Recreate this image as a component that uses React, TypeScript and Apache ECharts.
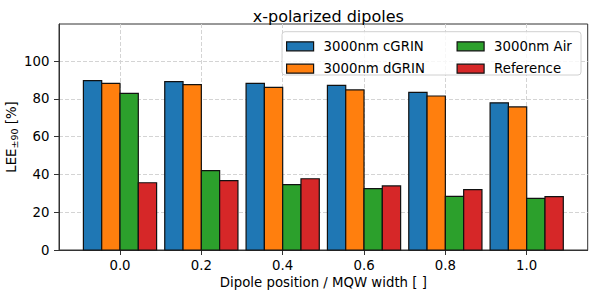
import React, { useEffect, useRef } from "react";
import * as echarts from "echarts";

const positions = [0.0, 0.2, 0.4, 0.6, 0.8, 1.0];
const cGRIN = [89.6, 89.1, 88.2, 87.1, 83.4, 77.9];
const dGRIN = [88.2, 87.5, 86.1, 84.7, 81.5, 75.7];
const air = [82.9, 42.0, 34.6, 32.5, 28.4, 27.3];
const reference = [35.6, 36.7, 37.7, 33.9, 31.9, 28.2];
const seriesNames = ["3000nm cGRIN", "3000nm dGRIN", "3000nm Air", "Reference"];
const xTicks = [0.0, 0.2, 0.4, 0.6, 0.8, 1.0];
const yTicks = [0, 20, 40, 60, 80, 100];

const COLORS = ["#1f77b4", "#ff7f0e", "#2ca02c", "#d62728"];
const FONT = "DejaVu Sans";
const BAR_W = 0.045;
const OFFSETS = [-0.0675, -0.0225, 0.0225, 0.0675];

export default function App() {
  const ref = useRef<HTMLDivElement>(null);
  useEffect(() => {
    if (!ref.current) return;
    const chart = echarts.init(ref.current, null, { renderer: "svg" });
    const all = [cGRIN, dGRIN, air, reference];
    const series = all.map((vals, si) => ({
      type: "custom",
      name: seriesNames[si],
      data: positions.map((p, i) => [p, vals[i]]),
      itemStyle: { color: COLORS[si], borderColor: "#000", borderWidth: 1.2 },
      renderItem: (params: any, api: any) => {
        const x = api.value(0) + OFFSETS[si];
        const v = api.value(1);
        const p0 = api.coord([x - BAR_W / 2, v]);
        const p1 = api.coord([x + BAR_W / 2, 0]);
        return {
          type: "rect",
          shape: { x: p0[0], y: p0[1], width: p1[0] - p0[0], height: p1[1] - p0[1] },
          style: { fill: COLORS[si], stroke: "#111", lineWidth: 1.2 },
        };
      },
      z: 2,
    }));
    const legendCommon = {
      orient: "vertical",
      itemWidth: 27,
      itemHeight: 9,
      itemGap: 9.4,
      icon: "rect",
      itemStyle: { borderColor: "#111", borderWidth: 1.2 },
      textStyle: { fontFamily: FONT, fontSize: 13.3, color: "#000", padding: [0, 0, 0, 5] },
      padding: 0,
      selectedMode: false,
    };
    chart.setOption({
      animation: false,
      title: {
        text: "x-polarized dipoles",
        left: 323.3,
        top: 3,
        textAlign: "center",
        textStyle: { fontFamily: FONT, fontSize: 16, fontWeight: "normal", color: "#000" },
      },
      legend: [
        { ...legendCommon, data: [seriesNames[0], seriesNames[1]], left: 286, top: 39.8 },
        { ...legendCommon, data: [seriesNames[2], seriesNames[3]], left: 456.5, top: 39.8 },
      ],
      graphic: [
        {
          type: "rect",
          z: 3,
          shape: { x: 282, y: 31.7, width: 299, height: 43.3, r: 3 },
          style: { fill: "rgba(255,255,255,0.8)", stroke: "#d0d0d0", lineWidth: 1 },
        },
      ],
      grid: {
        left: 59,
        top: 24,
        right: 4.3,
        bottom: 46,
        containLabel: false,
        outerBoundsMode: "none",
        show: true,
        borderColor: "#333",
        borderWidth: 1,
        backgroundColor: "transparent",
      },
      xAxis: {
        type: "value",
        min: -0.15,
        max: 1.15,
        name: "Dipole position / MQW width [ ]",
        nameLocation: "middle",
        nameGap: 26,
        nameMoveOverlap: false,
        nameTextStyle: { fontFamily: FONT, fontSize: 13.3, color: "#000" },
        axisLine: { show: true, onZero: false, lineStyle: { color: "#333", width: 1 } },
        axisTick: { show: true, length: 5, customValues: xTicks, lineStyle: { color: "#333" } },
        axisLabel: {
          customValues: xTicks,
          margin: 9,
          fontFamily: FONT,
          fontSize: 13.3,
          color: "#000",
          formatter: (v: number) => v.toFixed(1),
        },
        splitLine: { show: true, lineStyle: { color: "#d4d4d4", type: [4, 2], width: 1 } },
      },
      yAxis: {
        type: "value",
        min: 0,
        max: 119.6,
        name: "{m|LEE}{s|±90}{m| [%]}",
        nameLocation: "middle",
        nameGap: 40,
        nameRotate: 90,
        nameMoveOverlap: false,
        nameTextStyle: {
          fontFamily: FONT,
          color: "#000",
          rich: {
            m: { fontFamily: FONT, fontSize: 13.3, color: "#000", lineHeight: 16 },
            s: { fontFamily: FONT, fontSize: 9.5, color: "#000", verticalAlign: "bottom", lineHeight: 16, padding: [6, 0, 0, 0] },
          },
        },
        axisLine: { show: true, onZero: false, lineStyle: { color: "#333", width: 1 } },
        axisTick: { show: true, length: 5, customValues: yTicks, lineStyle: { color: "#333" } },
        axisLabel: {
          customValues: yTicks,
          margin: 9.5,
          fontFamily: FONT,
          fontSize: 13.3,
          color: "#000",
        },
        splitLine: { show: true, lineStyle: { color: "#d4d4d4", type: [4, 2], width: 1 } },
      },
      series,
    });
    return () => chart.dispose();
  }, []);
  return (
    <div
      ref={ref}
      style={{ position: "fixed", left: 0, top: 0, width: 592, height: 296, background: "#fff" }}
    />
  );
}
